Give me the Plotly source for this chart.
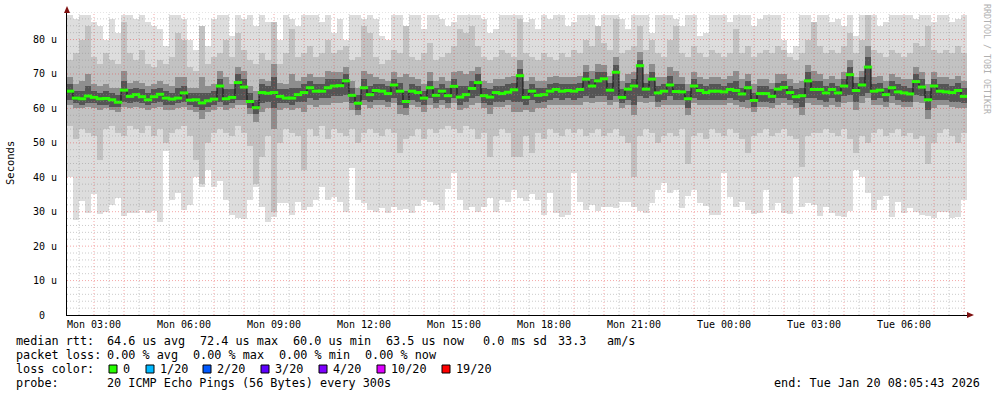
import plotly.graph_objects as go
import pandas as pd

# ---------------- data (values in microseconds) ----------------
START = pd.Timestamp("2026-01-19 02:06:00")
END = pd.Timestamp("2026-01-20 08:06:00")
STEP_MIN = 12
times = pd.date_range(START + pd.Timedelta(minutes=STEP_MIN / 2), periods=150, freq=f"{STEP_MIN}min")

median = [
    65.0, 63.0, 62.8, 63.6, 63.2, 62.8, 62.9, 62.5, 61.8, 65.3, 63.5, 64.0, 63.4, 62.5, 63.4, 64.1, 63.0, 62.7, 63.0, 64.5, 62.4, 62.5, 61.6, 62.2, 62.7,
    66.5, 62.8, 63.2, 67.5, 66.2, 62.0, 60.2, 64.6, 64.4, 64.6, 63.5, 63.0, 63.0, 64.0, 64.6, 66.0, 65.0, 65.0, 66.0, 66.5, 66.6, 68.0, 63.8, 61.5, 66.0,
    64.0, 65.2, 65.0, 64.3, 66.8, 65.0, 62.0, 65.0, 64.6, 63.0, 66.0, 63.8, 65.0, 63.7, 66.4, 63.3, 64.0, 65.8, 67.5, 63.7, 63.3, 64.6, 64.3, 64.7, 65.4,
    69.5, 63.2, 65.0, 63.8, 64.0, 65.0, 65.5, 65.0, 65.2, 65.0, 65.5, 68.5, 66.5, 68.0, 68.6, 65.3, 70.5, 63.2, 65.6, 66.5, 72.4, 65.6, 68.5, 64.5, 65.0,
    66.8, 64.9, 64.8, 62.8, 66.5, 65.2, 64.6, 65.0, 65.0, 64.8, 65.5, 65.2, 64.2, 66.0, 62.3, 64.3, 64.3, 63.5, 65.6, 66.1, 64.6, 63.4, 63.7, 68.0, 65.5,
    65.5, 64.5, 65.5, 64.5, 66.5, 69.8, 65.2, 66.8, 72.0, 65.0, 65.3, 64.0, 66.0, 64.8, 64.5, 64.2, 67.8, 66.2, 62.5, 66.5, 65.0, 64.8, 64.6, 65.2, 63.5,
]

# outer smoke (lightest)
smoke_lo1 = [
    40, 27.5, 33, 29.5, 35, 29.4, 30, 32, 34, 28.8, 29.5, 29.5, 30.5, 29.5, 30.3, 27.1, 47.5, 33.4, 35.4, 30.5, 32, 40.2, 37.3, 42.2, 37.3,
    38.8, 33.4, 29, 28.1, 27.8, 33.4, 37.1, 31.5, 27.1, 28.6, 32.5, 32.5, 29, 32.9, 30.5, 31.5, 33.4, 37.3, 33.4, 34.4, 32.9, 30, 42.6, 33.4, 32.5,
    30.5, 30, 31, 29.5, 31.5, 30.5, 30.7, 29.5, 31.7, 33.4, 32.9, 32, 30.5, 36.5, 41.2, 33.4, 30.5, 31.5, 30, 31.5, 33.9, 30, 33.4, 32.9, 36.3,
    33.9, 33.2, 35, 33.4, 29, 35.4, 29.5, 28.6, 29, 41.2, 32.9, 30.5, 32, 30.3, 31.5, 31.5, 31, 32.7, 32.7, 31.5, 30.2, 29.7, 32.5, 36.3, 38.3,
    35.4, 36.3, 31, 34.6, 36.3, 32.5, 31.7, 29, 29, 41.2, 34.4, 31.5, 32.9, 30.5, 29.4, 29.5, 36.3, 30.5, 32.5, 29.5, 29.4, 40.2, 31.5, 32.5, 32,
    28.8, 31.5, 29.5, 28.8, 28.6, 30.3, 42.2, 40.2, 35.4, 30.5, 33.4, 34.6, 28.6, 32.7, 29.5, 31, 30, 29, 28.8, 28.3, 30, 30, 28.1, 28.6, 33.4,
]
smoke_hi1 = [
    87, 86, 87, 87, 85, 84, 80, 86, 82, 87, 87, 86, 87, 85, 84, 83, 78, 87, 87, 86, 80, 77, 76, 78, 86,
    87, 87, 81, 87, 86, 87, 84, 87, 85, 83, 80, 87, 86, 84, 87, 87, 87, 85, 87, 82, 86, 80, 87, 87, 86,
    87, 86, 81, 80, 87, 87, 84, 87, 87, 83, 87, 87, 86, 84, 85, 87, 87, 87, 87, 86, 82, 83, 87, 87, 87,
    87, 85, 86, 83, 87, 86, 87, 87, 84, 85, 87, 87, 87, 78, 87, 87, 87, 86, 83, 87, 87, 87, 82, 87, 87,
    87, 86, 84, 87, 87, 81, 82, 87, 87, 87, 85, 87, 87, 87, 84, 86, 87, 87, 87, 80, 76, 78, 87, 87, 84,
    87, 87, 85, 86, 84, 87, 81, 87, 87, 87, 84, 85, 87, 87, 87, 87, 86, 87, 87, 85, 87, 87, 85, 86, 87,
]

# second smoke band
smoke_lo2 = [
    55, 51, 54, 53, 52, 45, 54, 55, 53, 52, 55, 54, 53, 55, 52, 54, 50, 53, 54, 55, 52, 45, 38, 50, 53,
    54, 53, 52, 55, 53, 49, 38, 46, 52, 30, 50, 54, 53, 52, 42, 54, 52, 55, 51, 54, 53, 52, 54, 50, 53,
    54, 53, 52, 54, 53, 47, 51, 52, 54, 51, 54, 53, 54, 55, 54, 53, 55, 54, 51, 53, 46, 52, 54, 53, 46,
    46, 52, 47, 53, 51, 54, 53, 52, 54, 53, 54, 52, 53, 54, 52, 53, 54, 52, 50, 40, 52, 54, 53, 50, 52,
    53, 52, 54, 44, 52, 53, 51, 54, 53, 52, 54, 53, 51, 47, 52, 53, 54, 52, 53, 54, 52, 51, 43, 52, 53,
    53, 54, 53, 52, 54, 51, 47, 52, 50, 53, 54, 52, 53, 54, 52, 53, 51, 52, 44, 50, 53, 54, 52, 50, 53,
]
smoke_hi2 = [
    74, 76, 80, 84, 75, 73, 76, 74, 73, 85, 76, 74, 77, 73, 72, 74, 73, 75, 82, 80, 72, 71, 84, 73, 75,
    76, 80, 75, 82, 77, 74, 73, 76, 74, 85, 73, 76, 83, 75, 76, 78, 75, 76, 80, 76, 77, 78, 74, 75, 84,
    82, 75, 73, 74, 77, 76, 84, 75, 74, 76, 79, 74, 75, 76, 78, 83, 82, 84, 78, 75, 74, 75, 77, 76, 75,
    86, 76, 75, 74, 76, 75, 74, 76, 75, 77, 76, 80, 78, 84, 79, 77, 86, 76, 77, 78, 84, 77, 80, 76, 75,
    80, 84, 76, 75, 78, 76, 75, 77, 76, 75, 76, 83, 76, 78, 75, 76, 77, 76, 78, 77, 75, 74, 76, 80, 85,
    78, 76, 77, 76, 78, 82, 76, 80, 87, 77, 76, 75, 77, 76, 75, 76, 79, 78, 84, 77, 76, 77, 76, 78, 76,
]

# third smoke band
smoke_lo3 = [
    61, 60, 60, 60.5, 60, 59.5, 60, 59.5, 59, 60.5, 60, 60.5, 60, 59.5, 60, 60.5, 59.5, 59.5, 60, 60.5, 59.5, 59, 57, 59, 59.5,
    60.5, 59.5, 60, 61, 61, 58.5, 56, 59, 60, 54, 59.5, 60, 59.5, 60, 59, 61, 60.5, 61, 61, 61.5, 61.5, 62, 59.5, 58, 61,
    60, 61, 61, 60.5, 61.5, 58.5, 58, 61, 60.5, 59, 61, 60, 61, 60, 61.5, 59.5, 60, 61, 61.5, 60, 58.5, 60.5, 60.5, 61, 59,
    59, 59.5, 59, 60, 60, 61, 61, 61, 61, 61, 61, 62, 61.5, 62, 62, 61, 62, 60, 61, 58, 62, 61.5, 62, 60.5, 61,
    61, 61, 61, 58, 61.5, 61, 61, 61, 61, 61, 61.5, 61, 60.5, 60, 59, 60.5, 60.5, 60, 61, 61.5, 61, 60, 58, 61.5, 61,
    61, 60.5, 61, 60.5, 61.5, 62, 59.5, 61.5, 63, 61, 61, 60.5, 61.5, 61, 60.5, 60.5, 62, 61.5, 57, 60, 61, 61, 60.5, 60, 60,
]
smoke_hi3 = [
    69, 67, 68, 70, 67, 66.5, 67, 66, 66, 71, 67.5, 68, 67.5, 66.5, 67, 68, 67, 66.5, 69, 69, 66, 66, 69, 66.5, 67,
    71, 69, 67, 72, 71, 66.5, 65, 68.5, 68, 73, 67.5, 67, 70, 68, 69, 70, 69, 69, 71, 70.5, 70.5, 72, 68, 66, 71,
    70, 69, 68.5, 68, 70.5, 69, 70, 69, 68.5, 67, 70.5, 68, 69, 68, 70.5, 71, 70, 71, 72, 68, 67.5, 68.5, 68.5, 69, 69.5,
    74, 68, 69, 68, 68, 69, 69.5, 69, 69, 69, 69.5, 72.5, 71, 73, 72.5, 69.5, 75, 68, 70, 70.5, 76.5, 70, 73, 69, 69,
    72, 71, 69, 67, 70.5, 69, 68.5, 69, 69, 68.5, 69.5, 71, 68.5, 70, 67, 68.5, 68.5, 67.5, 70, 70, 68.5, 67.5, 68, 72.5, 71,
    70, 68.5, 69.5, 68.5, 70.5, 74, 69, 71, 78, 69, 69.5, 68, 70, 69, 68.5, 68.5, 72, 70.5, 67, 70.5, 69, 69, 68.5, 69.5, 68,
]

# innermost smoke band (darkest)
smoke_lo4 = [
    62.5, 61.5, 61, 61.5, 61.5, 61, 61, 60.5, 60.5, 62, 61.5, 62, 61.5, 61, 61.5, 62, 61, 61, 61.5, 62, 61, 60.5, 59.5, 60.5, 61,
    62, 61, 61.5, 62.5, 62.5, 60, 58.5, 61.5, 62, 60, 61.5, 61.5, 61, 62, 62, 63, 62.5, 63, 63, 63.5, 63.5, 64, 61.5, 59.5, 62.5,
    62, 62.5, 62.5, 62, 63, 61, 60, 62.5, 62, 61, 63, 61.5, 62.5, 61.5, 63, 61, 62, 63, 63.5, 61.5, 61, 62, 62, 62.5, 62,
    62, 61, 62.5, 61.5, 62, 62.5, 63, 62.5, 63, 62.5, 63, 63.5, 63, 63.5, 63.5, 62.5, 63.5, 61.5, 62.5, 61, 63.5, 63, 63.5, 62, 62.5,
    63.5, 62.5, 62.5, 60, 63, 62.5, 62.5, 62.5, 62.5, 62.5, 63, 62.5, 62, 62.5, 60.5, 62, 62, 61.5, 63, 63, 62.5, 61.5, 60.5, 63, 63,
    62.5, 62, 63, 62, 63.5, 64, 62, 63.5, 64.5, 62.5, 63, 62, 63.5, 62.5, 62, 62, 64, 63.5, 59.5, 62.5, 62.5, 62.5, 62, 62, 61.5,
]
smoke_hi4 = [
    67, 65, 65, 66.5, 65, 64.5, 65, 64.5, 64, 68, 65.5, 66, 65.5, 64.5, 65.5, 66, 65, 64.5, 66, 66.5, 64.5, 64.5, 64.5, 64.5, 65,
    68.5, 65.5, 65.5, 70, 68.5, 64.5, 62.5, 67, 66.5, 69, 65.5, 65.5, 66, 66, 67, 68, 67, 67, 68.5, 68.5, 68.5, 70, 66, 64, 68.5,
    66.5, 67, 67, 66.5, 68.5, 67.5, 65, 67, 66.5, 65, 68, 66, 67, 66, 68.5, 66.5, 66.5, 68, 70, 66, 65.5, 66.5, 66.5, 67, 67.5,
    71.5, 65.5, 67, 66, 66, 67, 67.5, 67, 67, 67, 67.5, 70.5, 68.5, 70.5, 70.5, 67.5, 72.5, 65.5, 67.5, 68.5, 74, 67.5, 70.5, 66.5, 67,
    69.5, 67, 67, 65, 68.5, 67, 66.5, 67, 67, 66.5, 67.5, 68, 66, 68, 64.5, 66.5, 66.5, 65.5, 67.5, 68, 66.5, 65.5, 66, 70.5, 68,
    68, 66.5, 67.5, 66.5, 68.5, 72, 67.5, 69, 75, 67, 67.5, 66, 68, 67, 66.5, 66, 70, 68.5, 65, 68.5, 67, 67, 66.5, 67.5, 66,
]

y_tickvals = [0, 10, 20, 30, 40, 50, 60, 70, 80]
y_ticktext = ["0\u00a0\u00a0", "10 u", "20 u", "30 u", "40 u", "50 u", "60 u", "70 u", "80 u"]

loss_labels = ["0", "1/20", "2/20", "3/20", "4/20", "10/20", "19/20"]
loss_colors = ["#26ff00", "#00b8ff", "#0059ff", "#5e00ff", "#7e00ff", "#dd00ff", "#ff0000"]

# ---------------- layout geometry ----------------
W, H = 997, 397
ML, MR, MT, MB = 67, 30, 12, 82
PW, PH = W - ML - MR, H - MT - MB
Y_MAX = 88
MONO = "DejaVu Sans Mono"


def fx(px):
    return (px - ML) / PW


def fy(py):
    return (H - MB - py) / PH


fig = go.Figure()

bar_w = STEP_MIN * 60 * 1000
for lo, hi, col in [(smoke_lo1, smoke_hi1, "#dddddd"),
                    (smoke_lo2, smoke_hi2, "#c2c2c2"),
                    (smoke_lo3, smoke_hi3, "#8e8e8e"),
                    (smoke_lo4, smoke_hi4, "#545454")]:
    fig.add_trace(go.Bar(
        x=times, y=[h - l for h, l in zip(hi, lo)], base=lo, width=bar_w,
        marker=dict(color=col, line=dict(width=0)),
        hoverinfo="skip", showlegend=False))

fig.add_trace(go.Scatter(
    x=times, y=median, mode="lines",
    line=dict(color="#111111", width=1, shape="hvh"),
    hoverinfo="skip", showlegend=False))
fig.add_trace(go.Scatter(
    x=times, y=median, mode="markers",
    marker=dict(symbol="line-ew", size=6, line=dict(color=loss_colors[0], width=3)),
    hoverinfo="skip", showlegend=False))

shapes = []
MAJOR = "rgba(230,60,60,0.45)"
MINOR = "rgba(140,140,140,0.45)"
for v in range(2, Y_MAX + 1, 2):
    shapes.append(dict(type="line", xref="paper", yref="y", x0=0, x1=1, y0=v, y1=v,
                       line=dict(color=MAJOR if v % 10 == 0 else MINOR, width=1, dash="1px,2px"),
                       layer="above"))
t = pd.Timestamp("2026-01-19 02:30:00")
while t < END:
    shapes.append(dict(type="line", xref="x", yref="paper", x0=t, x1=t, y0=0, y1=1,
                       line=dict(color=MAJOR if t.minute == 0 else MINOR, width=1, dash="1px,2px"),
                       layer="above"))
    t += pd.Timedelta(minutes=30)

# axis arrows
ARROW = "#7f1010"
shapes.append(dict(type="path", xref="paper", yref="paper", layer="above",
                   path=f"M {fx(64)},{fy(13)} L {fx(70)},{fy(13)} L {fx(67)},{fy(6)} Z",
                   fillcolor=ARROW, line=dict(width=0)))
shapes.append(dict(type="path", xref="paper", yref="paper", layer="above",
                   path=f"M {fx(967)},{fy(312)} L {fx(967)},{fy(318)} L {fx(974)},{fy(315)} Z",
                   fillcolor=ARROW, line=dict(width=0)))

annotations = []


def text(px, py, s, size=11.8, color="#000000", xanchor="left", angle=0):
    annotations.append(dict(text=s, xref="paper", yref="paper", x=fx(px), y=fy(py),
                            xanchor=xanchor, yanchor="middle", showarrow=False,
                            borderpad=0, borderwidth=0, textangle=angle,
                            font=dict(family=MONO, size=size, color=color)))


text(10, 163, "Seconds", size=10.5, xanchor="center", angle=-90)
text(987, 59, "RRDTOOL / TOBI OETIKER", size=8.3, color="#b0b0b0", xanchor="center", angle=90)

L1, L2, L3, L4 = 341, 355, 369, 383
for px, s in [(16, "median rtt:"), (107, "64.6 us avg"), (200, "72.4 us max"),
              (293, "60.0 us min"), (386, "63.5 us now"), (483, "0.0 ms sd"),
              (558, "33.3"), (607, "am/s")]:
    text(px, L1, s)
for px, s in [(16, "packet loss:"), (107, "0.00 % avg"), (193, "0.00 % max"),
              (279, "0.00 % min"), (365, "0.00 % now")]:
    text(px, L2, s)
text(16, L3, "loss color:")
box_x = [109, 146, 203, 261, 319, 377, 442]
for bx, lab, col in zip(box_x, loss_labels, loss_colors):
    shapes.append(dict(type="rect", xref="paper", yref="paper",
                       x0=fx(bx), x1=fx(bx + 8), y0=fy(L3 + 4), y1=fy(L3 - 4),
                       fillcolor=col, line=dict(color="#000000", width=1)))
    text(bx + 14, L3, lab)
text(16, L4, "probe:")
text(107, L4, "20 ICMP Echo Pings (56 Bytes) every 300s")
text(980, L4, "end: Tue Jan 20 08:05:43 2026", xanchor="right")

fig.update_layout(
    width=W, height=H,
    margin=dict(l=ML, r=MR, t=MT, b=MB, pad=0),
    paper_bgcolor="#ffffff", plot_bgcolor="#ffffff",
    barmode="overlay", bargap=0,
    showlegend=False,
    font=dict(family=MONO, size=10, color="#000000"),
    shapes=shapes, annotations=annotations,
    xaxis=dict(type="date", range=[START, END],
               tickmode="linear", tick0="2026-01-19 03:00:00", dtick=3 * 3600 * 1000,
               tickformat="%a %H:%M", showgrid=False, zeroline=False,
               showline=True, linecolor="#000000", linewidth=1, layer="above traces",
               ticks="", ticklabelstandoff=0,
               tickfont=dict(family=MONO, size=10, color="#000000")),
    yaxis=dict(range=[0, Y_MAX], tickmode="array", tickvals=y_tickvals, ticktext=y_ticktext,
               showgrid=False, zeroline=False,
               showline=True, linecolor="#000000", linewidth=1, layer="above traces",
               ticks="", ticklabelstandoff=7,
               tickfont=dict(family=MONO, size=10, color="#000000")),
)

fig.write_html("out.html")
